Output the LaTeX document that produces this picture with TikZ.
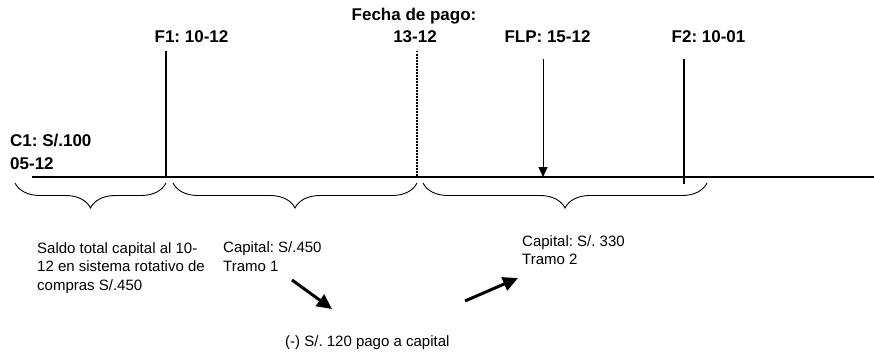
\documentclass[tikz,border=0pt]{standalone}
\usepackage{fontspec}
\setmainfont{Liberation Sans}
\frenchspacing
\usetikzlibrary{arrows.meta,decorations.pathreplacing}
\tikzset{
  boldlbl/.style={font=\fontsize{17}{20}\selectfont\bfseries, inner sep=0pt},
  txt/.style={font=\fontsize{15}{18}\selectfont, inner sep=0pt, anchor=base west},
  axisline/.style={line width=2pt},
  bracedec/.style={decorate, decoration={brace, mirror, amplitude=25pt}, line width=0.9pt},
  bigarrow/.style={line width=3pt, -{Triangle[length=15pt,width=14pt]}},
}
\begin{document}
\begin{tikzpicture}[x=1pt,y=-1pt]
\useasboundingbox (0,0) rectangle (874,353);
% labels on top
\node[boldlbl, anchor=base] (fecha) at (414,21) {Fecha de pago:};
\node[boldlbl, anchor=base] (f1) at (191.5,43) {F1: 10-12};
\node[boldlbl, anchor=base] (fp) at (415,43) {13-12};
\node[boldlbl, anchor=base] (flp) at (547.5,43) {FLP: 15-12};
\node[boldlbl, anchor=base] (f2) at (708.5,43) {F2: 10-01};
\node[boldlbl, anchor=base west] (c1a) at (10,146) {C1: S/.100};
\node[boldlbl, anchor=base west] (c1b) at (10,169) {05-12};
% axis
\coordinate (axL) at (32,177);
\coordinate (axR) at (874,177);
\draw[axisline] (axL) -- (axR);
% markers
\coordinate (f1t) at (166,51);
\coordinate (f1b) at (166,177);
\draw[axisline] (f1t) -- (f1b);
\coordinate (fpt) at (417,51);
\coordinate (fpb) at (417,177);
\draw[line width=1.5pt, dash pattern=on 1.5pt off 1.5pt] (fpt) -- (fpb);
\coordinate (flpt) at (543,59);
\coordinate (flpb) at (543,177);
\draw[line width=1pt, -{Triangle[length=10pt,width=9pt]}] (flpt) -- (flpb);
\coordinate (f2t) at (684,59);
\coordinate (f2b) at (684,184);
\draw[axisline] (f2t) -- (f2b);
% braces
\coordinate (b1l) at (15,183);
\coordinate (b1r) at (166,183);
\coordinate (b2l) at (173,183);
\coordinate (b2r) at (417,183);
\coordinate (b3l) at (423,183);
\coordinate (b3r) at (707,183);
\draw[bracedec] (b1l) -- (b1r);
\draw[bracedec] (b2l) -- (b2r);
\draw[bracedec] (b3l) -- (b3r);
% texts below
\node[txt] (s1) at (37,253) {Saldo total capital al 10-};
\node[txt] (s2) at (37,271.5) {12 en sistema rotativo de};
\node[txt] (s3) at (37,290) {compras S/.450};
\node[txt] (c1) at (223,252.5) {Capital: S/.450};
\node[txt] (t1) at (223,271) {Tramo 1};
\node[txt] (c2) at (522,246.5) {Capital: S/. 330};
\node[txt] (t2) at (522,264.5) {Tramo 2};
\node[txt] (pago) at (285,346.5) {(-) S/. 120 pago a capital};
% thick arrows
\coordinate (a1s) at (292,280);
\coordinate (a1e) at (332,309);
\coordinate (a2s) at (465,301);
\coordinate (a2e) at (518,278);
\draw[bigarrow] (a1s) -- (a1e);
\draw[bigarrow] (a2s) -- (a2e);
\end{tikzpicture}
\end{document}
